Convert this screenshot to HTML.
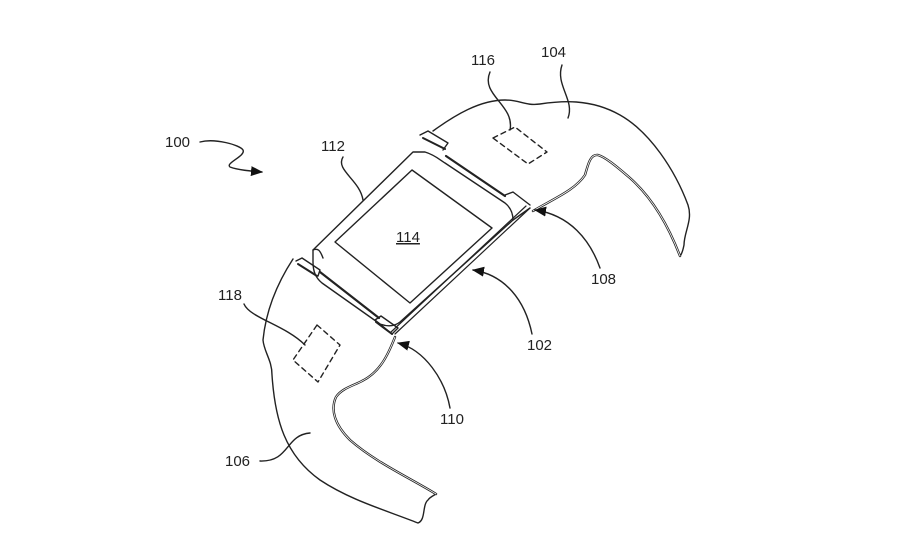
<!DOCTYPE html>
<html><head><meta charset="utf-8"><style>
html,body{margin:0;padding:0;background:#fff;}
svg{display:block;}
text{font-family:"Liberation Sans",sans-serif;font-size:15px;fill:#222;}
</style></head><body>
<svg width="900" height="540" viewBox="0 0 900 540" xmlns="http://www.w3.org/2000/svg">
<defs>
<marker id="ar" markerWidth="12" markerHeight="10" refX="11" refY="5" orient="auto" markerUnits="userSpaceOnUse">
<path d="M0,0 L12,5 L0,10 Z" fill="#111"/></marker>
</defs>
<g fill="none" stroke="#222" stroke-width="1.4" stroke-linecap="round" stroke-linejoin="round">
<path d="M433,131 C455,115 480,100 505,100 C520,100 525,106 540,104 C560,101 590,98 620,115 C650,132 675,170 688,205 C693,220 684,232 684,245 C683,250 682,254 680,256"/>
<path d="M680,256 C670,230 655,200 630,178 C615,165 605,157 598,155 C590,154 588,165 585,175 C575,190 555,198 533,211" stroke-width="2.4"/>
<path d="M680,256 C670,230 655,200 630,178 C615,165 605,157 598,155 C590,154 588,165 585,175 C575,190 555,198 533,211" stroke="#fff" stroke-width="0.8"/>
<path d="M293,259 C278,282 266,310 263,340 C264,352 272,360 272,375 C275,420 285,455 320,480 C350,500 385,510 418,523 C426,520 422,505 428,500 C430,497 433,496 436,494"/>
<path d="M436,494 C410,478 375,462 350,440 C335,425 330,410 336,397 C342,388 355,385 362,381 C380,372 388,355 395,337" stroke-width="2.4"/>
<path d="M436,494 C410,478 375,462 350,440 C335,425 330,410 336,397 C342,388 355,385 362,381 C380,372 388,355 395,337" stroke="#fff" stroke-width="0.8"/>
<path d="M413,152 L425,152 C435,155 440,160 445,163 L505,203 C510,207 513,212 513,220 L400,322 C395,326 388,327 380,324 L322,283 C316,278 313,272 313,262 L313,250 Z"/>
<path d="M313,250 C318,248 320,250 323,258"/>
<path d="M446,156 L505,196" stroke-width="2.2"/>
<path d="M320,272 L379,318" stroke-width="2.2"/>
<path d="M530,208 L395,334" stroke-width="1.2"/>
<path d="M526,206 L391,332" stroke-width="1.2"/>
<path d="M513,220 L530,208"/>
<path d="M420,135 L428,131 L448,143 L443,150"/>
<path d="M423,138 L445,149" stroke-width="2"/>
<path d="M505,195 L513,192 L530,205"/>
<path d="M296,261 L302,258 L320,270 L318,276"/>
<path d="M298,264 L317,276" stroke-width="2"/>
<path d="M375,320 L381,316 L398,328 L392,334 Z"/>
<path d="M376,322 L392,334" stroke-width="2"/>
<path d="M412,170 L492,228 L410,303 L335,242 Z"/>
<path d="M493,138 L515,127 L547,152 L528,164 Z" stroke-dasharray="5,4"/>
<path d="M317,325 L340,345 L318,382 L293,360 Z" stroke-dasharray="5,4"/>
<path d="M200,142 C215,138 240,145 243,150 C246,156 225,163 230,167 C238,170 250,171 262,172" marker-end="url(#ar)"/>
<path d="M343,157 C335,170 360,180 363,200"/>
<path d="M490,72 C480,95 515,105 510,130"/>
<path d="M562,65 C555,85 575,100 568,118"/>
<path d="M600,268 C590,240 570,215 535,210" marker-end="url(#ar)"/>
<path d="M532,334 C525,300 505,275 473,270" marker-end="url(#ar)"/>
<path d="M450,408 C445,380 425,350 398,343" marker-end="url(#ar)"/>
<path d="M244,304 C250,318 285,325 305,345"/>
<path d="M260,461 C290,462 285,435 310,433"/>
</g>
<text x="165" y="147">100</text>
<text x="541" y="57">104</text>
<text x="471" y="65">116</text>
<text x="321" y="151">112</text>
<text x="396" y="242" text-decoration="underline">114</text>
<text x="591" y="284">108</text>
<text x="527" y="350">102</text>
<text x="440" y="424">110</text>
<text x="218" y="300">118</text>
<text x="225" y="466">106</text>
</svg>
</body></html>
